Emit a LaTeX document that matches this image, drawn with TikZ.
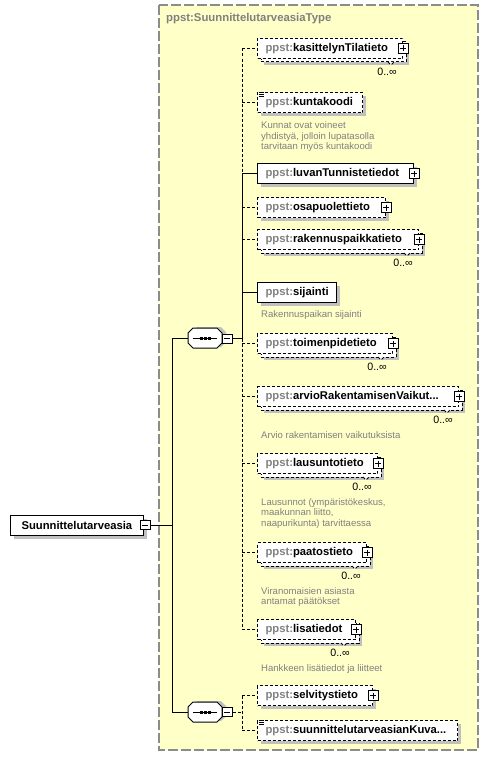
\documentclass[tikz,border=0pt]{standalone}
\usepackage{fontspec}
\setmainfont{Liberation Sans}
\definecolor{yel}{RGB}{255,255,200}
\definecolor{shd}{RGB}{192,192,192}
\definecolor{pgray}{RGB}{128,128,128}
\definecolor{bgray}{RGB}{140,140,140}
\tikzset{
  edash/.style={dash pattern=on 3bp off 2bp},
  ebox/.style={draw=black, line width=1bp, fill=white, inner sep=0pt, minimum height=20bp,
    font=\fontsize{11.3}{13}\selectfont\bfseries},
  plusbox/.style={draw=black, solid, line width=1bp, fill=white, minimum size=10bp, inner sep=0pt,
    path picture={
      \draw[line width=1bp] ([xshift=2bp]path picture bounding box.west) -- ([xshift=-2bp]path picture bounding box.east);
      \draw[line width=1bp] ([yshift=-2bp]path picture bounding box.north) -- ([yshift=2bp]path picture bounding box.south);}},
  minusbox/.style={draw=black, solid, line width=1bp, fill=white, minimum width=10bp, minimum height=9bp, inner sep=0pt,
    path picture={
      \draw[line width=1bp] ([xshift=2bp]path picture bounding box.west) -- ([xshift=-2bp]path picture bounding box.east);}},
  seqbox/.style={minimum width=34bp, minimum height=20bp, inner sep=0pt},
  desc/.style={font=\fontsize{9.6}{10.7}\selectfont, text=pgray, align=left, inner sep=0pt, anchor=north west},
  mult/.style={font=\fontsize{10.7}{12}\selectfont, inner sep=0pt, anchor=east},
  conn/.style={line width=1bp},
}
\newcommand\ename[2]{\makebox[#1][l]{\hspace{8bp}{\color{pgray}ppst:}#2}}
% multi-occurrence element: name, x1, y1, x2, text
\newcommand\multi[5]{%
  \pgfmathsetmacro\ww{#4-#2}%
  \fill[shd] (#2+7,#3+7) rectangle (#4+7,#3+27);
  \draw[edash, line width=1bp, fill=white] (#2+4,#3+4) rectangle (#4+4,#3+24);
  \draw[edash, line width=0.8bp, fill=white] (#4-14,#3+24) -- (#4-11,#3+27) -- (#4-8,#3+24);
  \node[ebox, edash, anchor=north west] (#1) at (#2,#3) {\ename{\ww bp}{#5}};
  \node[plusbox] (#1p) at (#1.east) {};
  \node[mult] (#1m) at (#4-5,#3+34) {0..∞};
}
% single element: [style], name, x1, y1, x2, text
\newcommand\single[6][]{%
  \pgfmathsetmacro\ww{#5-#3}%
  \fill[shd] (#3+4,#4+4) rectangle (#5+4,#4+24);
  \node[ebox, #1, anchor=north west] (#2) at (#3,#4) {\ename{\ww bp}{#6}};
}
\newcommand\docicon[1]{%
  \foreach \k in {0,2,4} {\draw[line width=0.8bp] ([xshift=1.5bp,yshift=-\k bp-0.5bp]#1.north west) -- +(5bp,0);}
}
% sequence compositor: name, cx, cy
\newcommand\seqc[3]{%
  \fill[shd] (#2-13,#3-6) -- (#2-8,#3-11) -- (#2+16,#3-11) -- (#2+21,#3-6) -- (#2+21,#3+4) -- (#2+16,#3+9) -- (#2-8,#3+9) -- (#2-13,#3+4) -- cycle;
  \draw[line width=1bp, fill=white] (#2-17,#3-5) -- (#2-12,#3-10) -- (#2+12,#3-10) -- (#2+17,#3-5) -- (#2+17,#3+5) -- (#2+12,#3+10) -- (#2-12,#3+10) -- (#2-17,#3+5) -- cycle;
  \node[seqbox] (#1) at (#2,#3) {};
  \draw[line width=1bp] ([xshift=5bp]#1.west) -- ([xshift=-5bp]#1.east);
  \foreach \dx in {-4,0,4} {\fill ([xshift=\dx bp]#1.center) +(-1.5bp,-1.5bp) rectangle +(1.5bp,1.5bp);}
}
\begin{document}
\begin{tikzpicture}[x=1bp,y=-1bp]
\useasboundingbox (0,0) rectangle (489,761);
% type box
\draw[bgray, line width=1.2bp, dash pattern=on 10bp off 3bp, fill=yel] (159,5) rectangle (478,750);
\node[font=\fontsize{11.4}{13}\selectfont\bfseries, text=pgray, anchor=west, inner sep=0pt] (title) at (166,19) {ppst:SuunnittelutarveasiaType};
\coordinate (spine) at (242,0);
\coordinate (j1) at (172,525);

% root element
\fill[shd] (14,519) rectangle (147,539);
\node[ebox, anchor=north west] (root) at (10,515) {\makebox[133bp][l]{\hspace{11bp}Suunnittelutarveasia}};
\node[minusbox] (rootm) at (145,525) {};

% sequences
\seqc{seq1}{205}{338}
\node[minusbox] (seq1m) at (227,338.5) {};
\seqc{seq2}{205}{712}
\node[minusbox] (seq2m) at (227,712) {};

% elements
\multi{kasittelyn}{257}{38}{402}{kasittelynTilatieto}
\single[edash]{kuntakoodi}{257}{92}{362}{kuntakoodi}
\docicon{kuntakoodi}
\node[desc] (kuntakoodid) at (261,121.5) {Kunnat ovat voineet\\yhdistyä, jolloin lupatasolla\\tarvitaan myös kuntakoodi};
\single{luvan}{257}{163}{413}{luvanTunnistetiedot}
\node[plusbox] (luvanp) at (luvan.east) {};
\single[edash]{osapuolet}{257}{197}{385}{osapuolettieto}
\node[plusbox] (osapuoletp) at (osapuolet.east) {};
\multi{rakennus}{257}{229}{418}{rakennuspaikkatieto}
\single{sijainti}{257}{282}{336}{sijainti}
\node[desc] (sijaintid) at (261,310) {Rakennuspaikan sijainti};
\multi{toimenpide}{257}{333}{392}{toimenpidetieto}
\multi{arvio}{257}{386}{458}{arvioRakentamisenVaikut...}
\node[desc] (arviod) at (261,431) {Arvio rakentamisen vaikutuksista};
\multi{lausunto}{257}{453}{377}{lausuntotieto}
\node[desc] (lausuntod) at (261,498) {Lausunnot (ympäristökeskus,\\maakunnan liitto,\\naapurikunta) tarvittaessa};
\multi{paatos}{257}{542}{366}{paatostieto}
\node[desc] (paatosd) at (261,587) {Viranomaisien asiasta\\antamat päätökset};
\multi{lisatiedot}{257}{619}{355}{lisatiedot}
\node[desc] (lisatiedotd) at (261,664) {Hankkeen lisätiedot ja liitteet};
\single[edash]{selvitys}{257}{685}{372}{selvitystieto}
\node[plusbox] (selvitysp) at (selvitys.east) {};
\single[edash]{kuva}{257}{720}{457}{suunnittelutarveasianKuva...}
\docicon{kuva}

% connectors: root to sequences
\draw[conn] (rootm.east) -- (j1);
\draw[conn] (seq1.west) -| (j1);
\draw[conn] (seq2.west) -| (j1);
% first sequence spine
\draw[conn, edash] (kasittelyn.west -| spine) -- (luvan.west -| spine);
\draw[conn] (luvan.west -| spine) -- (seq1m.east -| spine);
\draw[conn, edash] (seq1m.east -| spine) -- (lisatiedot.west -| spine);
\draw[conn] (seq1m.east) -- (seq1m.east -| spine);
\foreach \e in {kasittelyn,kuntakoodi,osapuolet,rakennus,toimenpide,arvio,lausunto,paatos,lisatiedot} {
  \draw[conn, edash] (\e.west -| spine) -- (\e.west);
}
\foreach \e in {luvan,sijainti} {
  \draw[conn] (\e.west -| spine) -- (\e.west);
}
% second sequence spine
\draw[conn, edash] (selvitys.west -| spine) -- (kuva.west -| spine);
\draw[conn, edash] (seq2m.east) -- (seq2m.east -| spine);
\foreach \e in {selvitys,kuva} {
  \draw[conn, edash] (\e.west -| spine) -- (\e.west);
}
\end{tikzpicture}
\end{document}
